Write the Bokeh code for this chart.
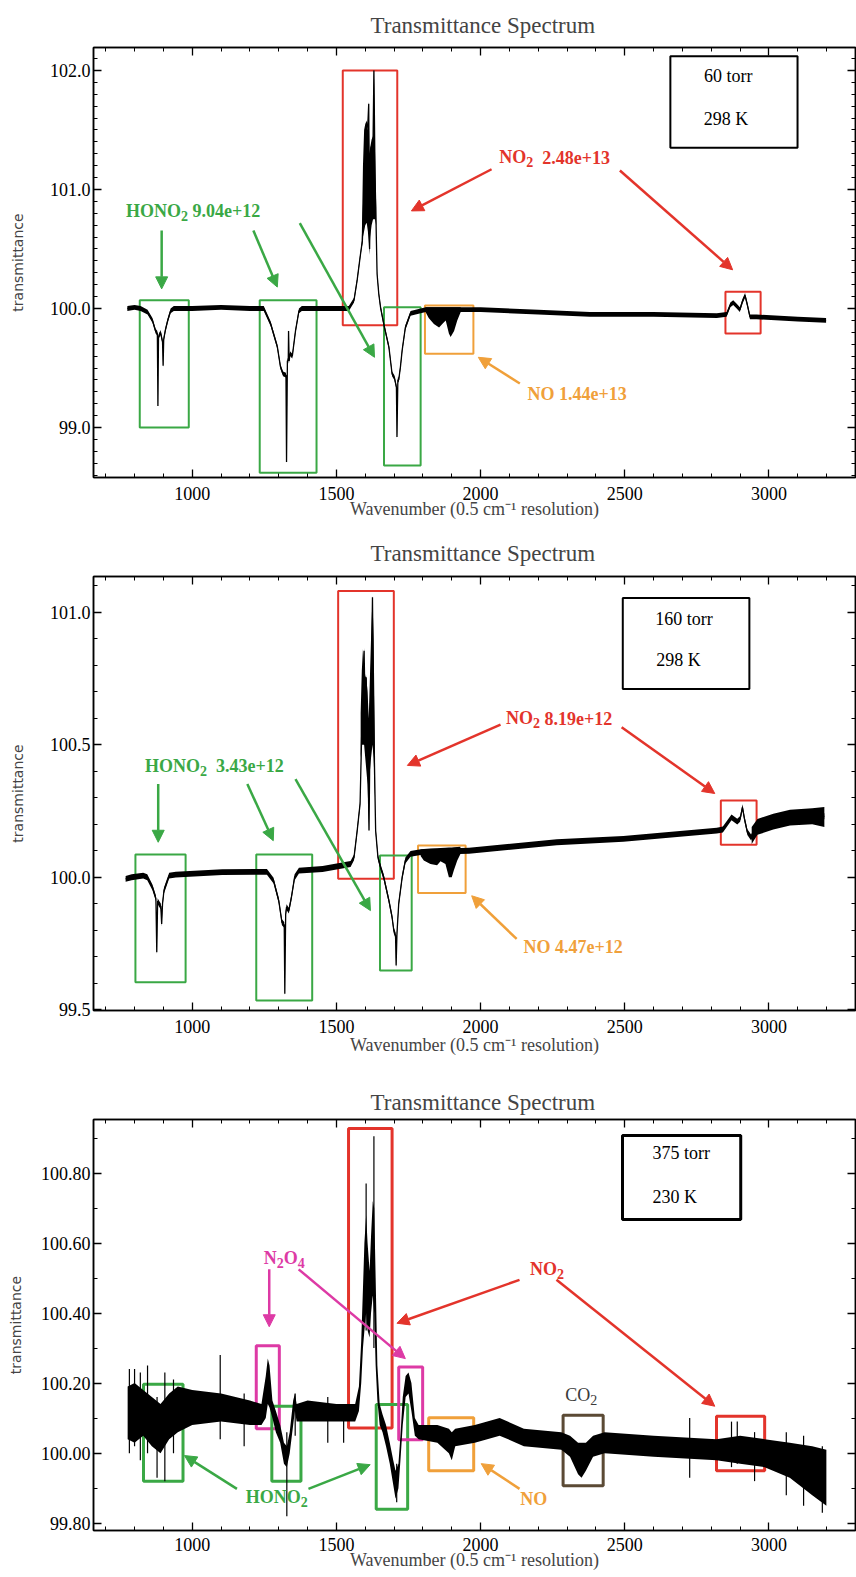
import numpy as np
from bokeh.plotting import figure
from bokeh.models import (Range1d, LinearAxis, SingleIntervalTicker,
                          PrintfTickFormatter, CustomJSTickFormatter, Arrow, NormalHead)
from bokeh.layouts import column
from bokeh.embed import file_html
from bokeh.resources import INLINE
from bokeh.core.properties import value

SERIF = "Liberation Serif"
SANS = "DejaVu Sans"
GREEN = "#3aa845"
RED = "#e3342b"
ORANGE = "#f0a03a"
MAGENTA = "#dd3aa5"
BROWN = "#5b4a35"

TITLE = "Transmittance Spectrum"
XLABEL = "Wavenumber (0.5 cm\u207b\u00b9 resolution)"
YLABEL = "transmittance"
X_RANGE = (657.6, 3300)

# ---------------- Panel 1 : 60 torr, 298 K ----------------
P1_Y_RANGE = (98.58, 102.193)
P1_TRACE_X = [775, 800, 821, 845, 862, 873, 879, 881, 883, 890, 897, 899, 901, 907, 915, 925, 936,
              1000, 1100, 1200, 1248, 1272, 1295, 1306, 1315, 1325, 1327, 1330, 1333, 1334, 1336,
              1339, 1347, 1358, 1370, 1380, 1500, 1543, 1561, 1572, 1582, 1590, 1596, 1603, 1609,
              1612, 1615, 1620, 1627, 1630, 1634, 1636, 1641, 1647, 1653, 1664, 1682, 1693, 1701,
              1708, 1710, 1713, 1716, 1722, 1728, 1739, 1757, 1792, 1810, 1900, 1931, 2000, 2200,
              2379, 2600, 2819, 2853, 2866, 2876, 2888, 2899, 2908, 2917, 2925, 2934, 2957, 3100, 3198]
P1_TRACE_Y = [100.0, 100.01, 100.0, 99.97, 99.9, 99.81, 99.79, 99.18, 99.76, 99.8, 99.72, 99.52,
              99.74, 99.82, 99.9, 99.98, 100.0,
              100.0, 100.01, 100.0, 100.0, 99.87, 99.68, 99.51, 99.45, 99.44, 98.71, 99.56, 99.56,
              99.81, 99.56, 99.62, 99.6, 99.81, 99.98, 100.0, 100.0, 100.0, 100.07, 100.24, 100.43,
              100.57, 101.0, 101.5, 101.55, 101.72, 100.5, 101.35, 101.4, 102.0, 101.1, 100.88,
              100.29, 100.12, 100.01, 99.87, 99.675, 99.45, 99.42, 99.34, 98.92, 99.4, 99.4, 99.51,
              99.65, 99.84, 99.96, 99.98, 99.99, 99.99, 99.99, 99.99, 99.97, 99.95, 99.95, 99.94,
              99.95, 100.03, 100.05, 100.02, 99.99, 100.06, 100.11, 100.03, 99.93, 99.93, 99.91, 99.90]
P1_NOISE = 0.02
P1_NO2_X = [1588, 1592, 1596, 1600, 1605, 1609, 1612, 1614, 1617, 1622, 1627, 1630, 1634, 1638]
P1_NO2_LO = [100.5, 100.6, 100.65, 100.7, 100.72, 100.65, 100.55, 100.45, 100.6, 100.7, 100.75, 100.75, 100.75, 100.7]
P1_NO2_HI = [100.6, 101.2, 101.5, 101.55, 101.58, 101.5, 101.72, 101.3, 101.35, 101.42, 101.45, 102.0, 101.3, 100.85]
P1_NO_X = [1809, 1820, 1838, 1856, 1867, 1879, 1890, 1896, 1908, 1919, 1931]
P1_NO_LO = [99.97, 99.92, 99.87, 99.84, 99.87, 99.9, 99.79, 99.76, 99.81, 99.9, 99.97]
P1_NO_HI = [100.01, 100.01, 100.01, 100.01, 100.01, 100.01, 100.01, 100.01, 100.01, 100.01, 100.01]
P1_BOX_L = [818, 1234, 1522, 1665, 1807, 2849, 2658]
P1_BOX_R = [988, 1431, 1711, 1792, 1975, 2971, 3099]
P1_BOX_B = [99.0, 98.62, 99.86, 98.68, 99.62, 99.79, 101.35]
P1_BOX_T = [100.07, 100.07, 102.0, 100.01, 100.025, 100.14, 102.12]
P1_BOX_C = [GREEN, GREEN, RED, GREEN, ORANGE, RED, "black"]
P1_ARR_X0 = [894, 1212, 1373, 2038, 2483, 2136]
P1_ARR_Y0 = [100.655, 100.655, 100.717, 101.17, 101.16, 99.37]
P1_ARR_X1 = [894, 1295, 1632, 1760, 2874, 1992]
P1_ARR_Y1 = [100.165, 100.18, 99.59, 100.82, 100.325, 99.59]
P1_ARR_C = [GREEN, GREEN, GREEN, RED, RED, ORANGE]
P1_LAB_T = ["HONO_2 9.04e+12", "NO_2  2.48e+13", "NO 1.44e+13"]
P1_LAB_X = [1003, 2257, 2335]
P1_LAB_Y = [100.82, 101.27, 99.28]
P1_LAB_C = [GREEN, RED, ORANGE]
P1_INFO_T = ["60 torr", "298 K"]
P1_INFO_X = [2859, 2851]
P1_INFO_Y = [101.95, 101.59]

# ---------------- Panel 2 : 160 torr, 298 K ----------------
P2_Y_RANGE = (99.497, 101.135)
P2_TRACE_X = [769, 790, 830, 844, 862, 874, 877, 880, 885, 891, 894, 897, 902, 920, 943, 1104, 1220,
              1259, 1282, 1300, 1311, 1319, 1321, 1324, 1327, 1335, 1344, 1355, 1370, 1452, 1549,
              1561, 1572, 1582, 1590, 1596, 1600, 1603, 1608, 1613, 1617, 1622, 1625, 1628, 1630,
              1636, 1644, 1653, 1664, 1682, 1693, 1699, 1705, 1707, 1710, 1716, 1728, 1739, 1757,
              1792, 1960, 2264, 2495, 2819, 2840, 2870, 2890, 2900, 2908, 2915, 2925, 2938, 2957,
              3015, 3073, 3192]
P2_TRACE_Y = [99.994, 100.0, 100.006, 100.0, 99.962, 99.92, 99.717, 99.91, 99.9, 99.89, 99.824, 99.9,
              99.95, 100.006, 100.01, 100.019, 100.02,
              100.02, 99.987, 99.912, 99.83, 99.82, 99.56, 99.86, 99.887, 99.874, 99.925, 100.0,
              100.025, 100.031, 100.05, 100.075, 100.176, 100.277, 100.654, 100.855, 100.6, 100.755,
              100.55, 100.176, 100.6, 100.8, 101.057, 100.7, 100.528, 100.176, 100.075, 100.038,
              100.0, 99.912, 99.849, 99.799, 99.78, 99.667, 99.79, 99.9, 100.0, 100.063, 100.088,
              100.095, 100.1, 100.132, 100.145, 100.176, 100.18, 100.226, 100.21, 100.22, 100.264,
              100.22, 100.17, 100.15, 100.19, 100.21, 100.226, 100.23]
P2_NOISE = 0.011
P2_NO2_X = [1584, 1588, 1592, 1596, 1600, 1604, 1608, 1612, 1616, 1620, 1625, 1629, 1634]
P2_NO2_LO = [100.45, 100.5, 100.5, 100.5, 100.45, 100.4, 100.35, 100.2, 100.4, 100.45, 100.5, 100.45, 100.3]
P2_NO2_HI = [100.62, 100.78, 100.86, 100.8, 100.76, 100.75, 100.7, 100.6, 100.75, 100.9, 101.057, 100.9, 100.45]
P2_NO_X = [1792, 1803, 1826, 1849, 1861, 1878, 1890, 1900, 1907, 1919, 1930]
P2_NO_LO = [100.08, 100.063, 100.05, 100.045, 100.06, 100.05, 100.0, 100.0, 100.025, 100.063, 100.088]
P2_NO_HI = [100.105, 100.107, 100.108, 100.109, 100.11, 100.111, 100.112, 100.112, 100.113, 100.114, 100.115]
P2_TAIL_X = [2940, 2960, 3015, 3073, 3150, 3192]
P2_TAIL_LO = [100.125, 100.16, 100.18, 100.195, 100.2, 100.19]
P2_TAIL_HI = [100.19, 100.22, 100.24, 100.255, 100.26, 100.265]
P2_BOX_L = [803, 1222, 1506, 1651, 1783, 2833, 2493]
P2_BOX_R = [977, 1416, 1699, 1761, 1948, 2957, 2932]
P2_BOX_B = [99.604, 99.535, 99.994, 99.648, 99.94, 100.123, 100.71]
P2_BOX_T = [100.086, 100.086, 101.08, 100.082, 100.12, 100.29, 101.054]
P2_BOX_C = [GREEN, GREEN, RED, GREEN, ORANGE, RED, "black"]
P2_ARR_X0 = [882, 1191, 1358, 2069, 2489, 2125]
P2_ARR_Y0 = [100.352, 100.352, 100.37, 100.576, 100.566, 99.767]
P2_ARR_X1 = [882, 1281, 1618, 1746, 2812, 1969]
P2_ARR_Y1 = [100.132, 100.138, 99.874, 100.422, 100.316, 99.93]
P2_ARR_C = [GREEN, GREEN, GREEN, RED, RED, ORANGE]
P2_LAB_T = ["HONO_2  3.43e+12", "NO_2 8.19e+12", "NO 4.47e+12"]
P2_LAB_X = [1077, 2272, 2321]
P2_LAB_Y = [100.42, 100.60, 99.736]
P2_LAB_C = [GREEN, RED, ORANGE]
P2_INFO_T = ["160 torr", "298 K"]
P2_INFO_X = [2705, 2686]
P2_INFO_Y = [100.975, 100.82]

# ---------------- Panel 3 : 375 torr, 230 K ----------------
P3_Y_RANGE = (99.779, 100.953)
P3_X = [776, 800, 830, 860, 890, 920, 950, 1000, 1100, 1200, 1240, 1255, 1262, 1268, 1278, 1290,
        1305, 1318, 1328, 1338, 1350, 1356, 1362, 1400, 1500, 1565, 1578, 1586, 1592, 1597, 1603,
        1608, 1615, 1620, 1626, 1631, 1636, 1642, 1650, 1660, 1672, 1685, 1697, 1705, 1715, 1722,
        1730, 1740, 1750, 1760, 1772, 1785, 1850, 1890, 1900, 1912, 1980, 2066, 2150, 2280, 2310,
        2338, 2350, 2365, 2390, 2430, 2600, 2818, 2900, 2985, 3072, 3150, 3199]
P3_LO = [100.04, 100.03, 100.05, 100.02, 100.0, 100.04, 100.06, 100.08, 100.09, 100.08, 100.08,
         100.10, 100.14, 100.13, 100.10, 100.06, 100.03, 99.97, 99.96, 100.0, 100.08, 100.12, 100.09,
         100.09, 100.09, 100.09, 100.12, 100.2, 100.3, 100.35, 100.4, 100.35, 100.33, 100.4, 100.45,
         100.4, 100.25, 100.15, 100.08, 100.06, 100.02, 99.97, 99.91, 99.87, 99.9, 99.98, 100.08,
         100.16, 100.17, 100.12, 100.05, 100.04, 100.03, 100.0, 99.98, 100.02, 100.03, 100.05, 100.02,
         100.01, 99.99, 99.94, 99.93, 99.95, 99.99, 100.0, 99.99, 99.98, 99.97, 99.96, 99.93, 99.88, 99.85]
P3_HI = [100.19, 100.2, 100.18, 100.16, 100.14, 100.17, 100.19, 100.18, 100.17, 100.15, 100.14,
         100.22, 100.27, 100.25, 100.15, 100.12, 100.08, 100.03, 100.02, 100.06, 100.15, 100.17, 100.14,
         100.15, 100.14, 100.14, 100.19, 100.32, 100.47, 100.6, 100.68, 100.6, 100.52, 100.62, 100.72,
         100.7, 100.5, 100.25, 100.14, 100.11, 100.08, 100.03, 99.98, 99.95, 99.97, 100.05, 100.16,
         100.22, 100.23, 100.2, 100.1, 100.08, 100.08, 100.07, 100.06, 100.07, 100.08, 100.1, 100.07,
         100.06, 100.05, 100.03, 100.03, 100.03, 100.05, 100.06, 100.05, 100.04, 100.05, 100.04, 100.03,
         100.02, 100.01]
P3_SPIKE_X = [782, 800, 820, 845, 878, 905, 935, 1097, 1180, 1328, 1357, 1470, 1525, 1603, 1630,
              1709, 2725, 2870, 2890, 2950, 3060, 3120, 3185]
P3_SPIKE_LO = [100.0, 100.02, 99.98, 100.0, 99.93, 99.92, 100.0, 100.04, 100.02, 99.82, 100.05,
               100.03, 100.03, 100.35, 100.3, 99.86, 99.93, 99.96, 99.97, 99.92, 99.88, 99.85, 99.83]
P3_SPIKE_HI = [100.24, 100.24, 100.23, 100.25, 100.16, 100.23, 100.21, 100.28, 100.17, 100.06, 100.17,
               100.16, 100.14, 100.77, 100.905, 99.97, 100.1, 100.09, 100.09, 100.06, 100.06, 100.05, 100.02]
P3_BOX_L = [831, 1222, 1276, 1542, 1638, 1716, 1820, 2286, 2818, 2492]
P3_BOX_R = [968, 1302, 1377, 1693, 1747, 1799, 1976, 2425, 2985, 2902]
P3_BOX_B = [99.92, 100.07, 99.92, 100.072, 99.84, 100.038, 99.95, 99.907, 99.95, 100.667]
P3_BOX_T = [100.197, 100.307, 100.134, 100.927, 100.139, 100.246, 100.101, 100.108, 100.105, 100.907]
P3_BOX_C = [GREEN, MAGENTA, GREEN, RED, GREEN, MAGENTA, ORANGE, BROWN, RED, "black"]
P3_ARR_X0 = [1267, 1369, 2135, 2263, 2135, 1155, 1403]
P3_ARR_Y0 = [100.525, 100.525, 100.495, 100.495, 99.898, 99.898, 99.898]
P3_ARR_X1 = [1267, 1739, 1710, 2812, 2002, 973, 1617]
P3_ARR_Y1 = [100.361, 100.27, 100.371, 100.134, 99.97, 99.993, 99.967]
P3_ARR_C = [MAGENTA, MAGENTA, RED, RED, ORANGE, GREEN, GREEN]
P3_LAB_T = ["N_2O_4", "NO_2", "NO", "HONO_2"]
P3_LAB_X = [1319, 2230, 2184, 1293]
P3_LAB_Y = [100.557, 100.525, 99.87, 99.874]
P3_LAB_C = [MAGENTA, RED, ORANGE, GREEN]
P3_CO2_T = ["CO_2"]
P3_CO2_X = [2349]
P3_CO2_Y = [100.165]
P3_INFO_T = ["375 torr", "230 K"]
P3_INFO_X = [2696, 2673]
P3_INFO_Y = [100.858, 100.732]

# Times / Liberation Serif advance widths (per 1000 em), used to place subscripts
W_BOLD = {" ": 250, "+": 570, ".": 250, "e": 444, "C": 722, "H": 778, "N": 722, "O": 778}
W_REG = {" ": 250, "+": 564, ".": 250, "e": 444, "C": 667, "H": 722, "N": 722, "O": 722}
for _d in "0123456789":
    W_BOLD[_d] = 500
    W_REG[_d] = 500


def text_width(s, size, bold):
    table = W_BOLD if bold else W_REG
    return sum(table.get(c, 500) for c in s) / 1000.0 * size


def parse_chem(s):
    parts, buf, i = [], "", 0
    while i < len(s):
        if s[i] == "_" and i + 1 < len(s):
            if buf:
                parts.append((buf, False))
            parts.append((s[i + 1], True))
            buf = ""
            i += 2
        else:
            buf += s[i]
            i += 1
    if buf:
        parts.append((buf, False))
    return parts


def add_chem_labels(p, T, X, Y, C, bold=True, size=18):
    sub_size = round(size * 0.8)
    style = "bold" if bold else "normal"
    main = dict(x=[], y=[], text=[], xo=[], c=[])
    subs = dict(x=[], y=[], text=[], xo=[], c=[])
    for s, x, y, c in zip(T, X, Y, C):
        parts = parse_chem(s)
        widths = [text_width(t, sub_size if is_sub else size, bold) for t, is_sub in parts]
        cur = -sum(widths) / 2.0
        for (t, is_sub), w in zip(parts, widths):
            stripped = t.lstrip(" ")
            lead = text_width(t[:len(t) - len(stripped)], size, bold)
            d = subs if is_sub else main
            d["x"].append(x); d["y"].append(y); d["text"].append(stripped)
            d["xo"].append(cur + lead); d["c"].append(c)
            cur += w
    p.text(x=main["x"], y=main["y"], text=main["text"], x_offset=main["xo"], text_color=main["c"],
           text_font=value(SERIF), text_font_size=f"{size}px", text_font_style=style,
           text_align="left", text_baseline="middle")
    if subs["x"]:
        p.text(x=subs["x"], y=subs["y"], text=subs["text"], x_offset=subs["xo"], y_offset=5,
               text_color=subs["c"], text_font=value(SERIF), text_font_size=f"{sub_size}px",
               text_font_style=style, text_align="left", text_baseline="middle")


def style_axis(ax, labels=True, size="18px", standoff=3):
    ax.major_tick_in = 8
    ax.major_tick_out = 0
    ax.minor_tick_in = 4
    ax.minor_tick_out = 0
    ax.axis_line_color = "black"
    ax.axis_line_width = 1.5
    ax.major_tick_line_width = 1.3
    ax.minor_tick_line_width = 1
    ax.major_label_text_font = SERIF
    ax.major_label_text_color = "black"
    if labels:
        ax.major_label_text_font_size = size
        ax.major_label_standoff = standoff
    else:
        ax.formatter = CustomJSTickFormatter(code="return ''")
        ax.major_label_text_font_size = "1px"
        ax.major_label_standoff = 0


def make_fig(height, btop, bbot, yr, yint, yminor, yfmt, ylab_standoff,
             xlab_standoff, xtick_standoff, title_pad):
    p = figure(width=856, height=height, x_range=Range1d(*X_RANGE), y_range=Range1d(*yr),
               output_backend="svg", toolbar_location=None, x_axis_type=None, y_axis_type=None,
               min_border_left=93, min_border_right=1, min_border_top=btop, min_border_bottom=bbot)
    p.outline_line_color = "black"
    p.outline_line_width = 1.5
    p.background_fill_color = "white"
    p.border_fill_color = "white"

    xb = LinearAxis(ticker=SingleIntervalTicker(interval=500, num_minor_ticks=5))
    style_axis(xb, standoff=xtick_standoff)
    xb.axis_label = XLABEL
    xb.axis_label_text_font = SERIF
    xb.axis_label_text_font_size = "18px"
    xb.axis_label_text_font_style = "normal"
    xb.axis_label_standoff = xlab_standoff
    p.add_layout(xb, "below")

    xt = LinearAxis(ticker=SingleIntervalTicker(interval=500, num_minor_ticks=5))
    style_axis(xt, labels=False)
    p.add_layout(xt, "above")

    yl = LinearAxis(ticker=SingleIntervalTicker(interval=yint, num_minor_ticks=yminor),
                    formatter=PrintfTickFormatter(format=yfmt))
    style_axis(yl)
    yl.axis_label = YLABEL
    yl.axis_label_text_font = SANS
    yl.axis_label_text_font_size = "14px"
    yl.axis_label_text_font_style = "normal"
    yl.axis_label_standoff = ylab_standoff
    p.add_layout(yl, "left")

    yr_ax = LinearAxis(ticker=SingleIntervalTicker(interval=yint, num_minor_ticks=yminor))
    style_axis(yr_ax, labels=False)
    p.add_layout(yr_ax, "right")

    p.title.text = TITLE
    p.title.text_font = SERIF
    p.title.text_font_size = "23px"
    p.title.text_font_style = "normal"
    p.title.align = "left"
    p.title.offset = 277 - title_pad
    if title_pad:
        try:
            p.title.padding = title_pad
        except Exception:
            pass
    return p


def add_boxes(p, L, R, B, T, C, lw):
    p.quad(left=L, right=R, bottom=B, top=T, fill_color=None, line_color=C, line_width=lw)


def add_arrows(p, X0, Y0, X1, Y1, C, lw=2.5, size=12):
    for x0, y0, x1, y1, c in zip(X0, Y0, X1, Y1, C):
        p.add_layout(Arrow(end=NormalHead(size=size, fill_color=c, line_color=c, line_width=1),
                           x_start=x0, y_start=y0, x_end=x1, y_end=y1,
                           line_color=c, line_width=lw))


def add_plain(p, T, X, Y, size="18px"):
    p.text(x=X, y=Y, text=T, text_color="black", text_font=value(SERIF), text_font_size=size,
           text_font_style="normal", text_align="center", text_baseline="middle")


def add_trace(p, X, Y, noise):
    x = np.array(X, dtype=float)
    y = np.array(Y, dtype=float)
    p.varea(x=x, y1=y - noise, y2=y + noise, fill_color="black")
    p.line(x, y, line_color="black", line_width=1.3)


def add_dense(p, X, LO, HI):
    p.varea(x=X, y1=LO, y2=HI, fill_color="black")


# ---------------- build panel 1 ----------------
p1 = make_fig(525, 47, 48, P1_Y_RANGE, 1.0, 10, "%.1f", 21,
              xlab_standoff=-4, xtick_standoff=9, title_pad=5)
add_boxes(p1, P1_BOX_L, P1_BOX_R, P1_BOX_B, P1_BOX_T, P1_BOX_C, 2)
add_trace(p1, P1_TRACE_X, P1_TRACE_Y, P1_NOISE)
add_dense(p1, P1_NO2_X, P1_NO2_LO, P1_NO2_HI)
add_dense(p1, P1_NO_X, P1_NO_LO, P1_NO_HI)
add_arrows(p1, P1_ARR_X0, P1_ARR_Y0, P1_ARR_X1, P1_ARR_Y1, P1_ARR_C)
add_chem_labels(p1, P1_LAB_T, P1_LAB_X, P1_LAB_Y, P1_LAB_C)
add_plain(p1, P1_INFO_T, P1_INFO_X, P1_INFO_Y)

# ---------------- build panel 2 ----------------
p2 = make_fig(537, 51, 52, P2_Y_RANGE, 0.5, 5, "%.1f", 21,
              xlab_standoff=-1, xtick_standoff=9, title_pad=6)
add_boxes(p2, P2_BOX_L, P2_BOX_R, P2_BOX_B, P2_BOX_T, P2_BOX_C, 2)
add_trace(p2, P2_TRACE_X, P2_TRACE_Y, P2_NOISE)
add_dense(p2, P2_NO2_X, P2_NO2_LO, P2_NO2_HI)
add_dense(p2, P2_NO_X, P2_NO_LO, P2_NO_HI)
add_dense(p2, P2_TAIL_X, P2_TAIL_LO, P2_TAIL_HI)
add_arrows(p2, P2_ARR_X0, P2_ARR_Y0, P2_ARR_X1, P2_ARR_Y1, P2_ARR_C)
add_chem_labels(p2, P2_LAB_T, P2_LAB_X, P2_LAB_Y, P2_LAB_C)
add_plain(p2, P2_INFO_T, P2_INFO_X, P2_INFO_Y)

# ---------------- build panel 3 ----------------
p3 = make_fig(514, 57, 46, P3_Y_RANGE, 0.2, 2, "%.2f", 14,
              xlab_standoff=-4, xtick_standoff=7, title_pad=0)
add_boxes(p3, P3_BOX_L, P3_BOX_R, P3_BOX_B, P3_BOX_T, P3_BOX_C, 3)
add_dense(p3, P3_X, P3_LO, P3_HI)
p3.segment(x0=P3_SPIKE_X, y0=P3_SPIKE_LO, x1=P3_SPIKE_X, y1=P3_SPIKE_HI,
           line_color="black", line_width=1.2)
add_arrows(p3, P3_ARR_X0, P3_ARR_Y0, P3_ARR_X1, P3_ARR_Y1, P3_ARR_C)
add_chem_labels(p3, P3_LAB_T, P3_LAB_X, P3_LAB_Y, P3_LAB_C)
add_chem_labels(p3, P3_CO2_T, P3_CO2_X, P3_CO2_Y, ["#3a3a3a"], bold=False)
add_plain(p3, P3_INFO_T, P3_INFO_X, P3_INFO_Y)

layout = column(p1, p2, p3, spacing=0)
open("out.html", "w").write(file_html(layout, INLINE, title="Transmittance Spectrum"))
